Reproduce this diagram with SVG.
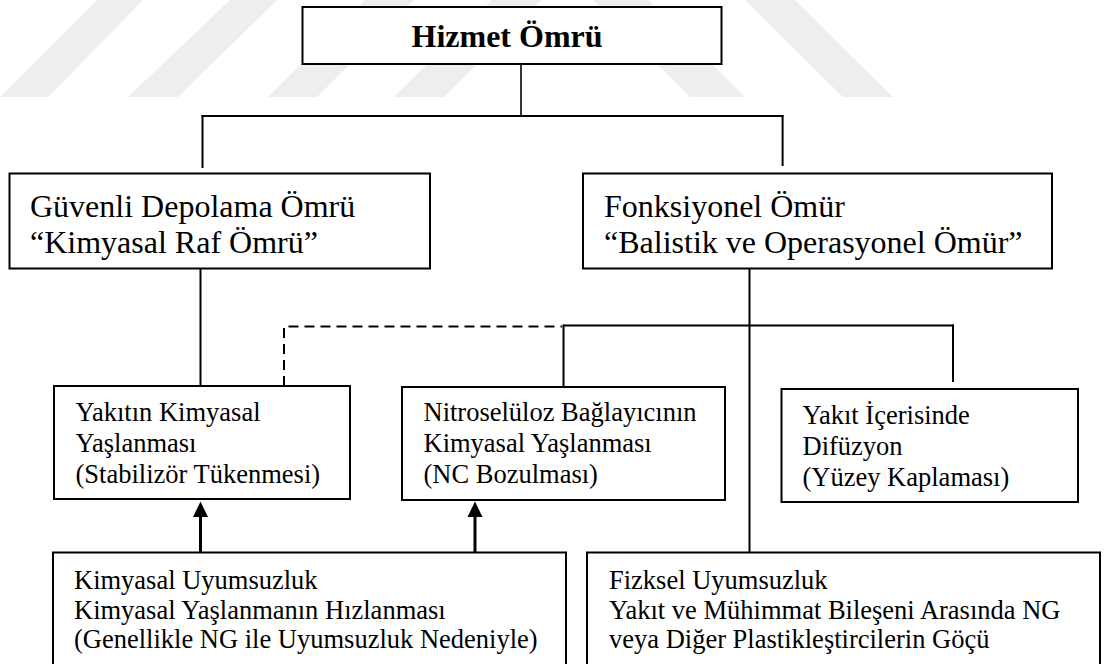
<svg xmlns="http://www.w3.org/2000/svg" width="1104" height="664" viewBox="0 0 1104 664">
<style>
.box{fill:#fff;stroke:#000;stroke-width:2}
.ln{fill:none;stroke:#000;stroke-width:2}
.dash{fill:none;stroke:#000;stroke-width:2;stroke-dasharray:10 6}
.arr{fill:none;stroke:#000;stroke-width:3}
.wm{fill:#eeeeee}
.t{font-family:"Liberation Serif","Times New Roman",serif;fill:#000}
.big{font-size:32px}
.sm{font-size:26.5px}
.bold{font-weight:bold}
</style>
<defs>
<marker id="ah" markerWidth="6" markerHeight="6" refX="5" refY="3" orient="auto" markerUnits="strokeWidth">
<path d="M0,0 L5,3 L0,6 Z" fill="#000"/>
</marker>
</defs>
<rect x="0" y="0" width="1104" height="664" fill="#fff"/>
<g id="watermark">
<polygon class="wm" points="0,97 48,97 143,0 97,0"/>
<polygon class="wm" points="128,97 178,97 277,0 230,0"/>
<polygon class="wm" points="268,97 317,97 414,0 365,0"/>
<polygon class="wm" points="394,97 444,97 541,0 492,0"/>
<polygon class="wm" points="593,0 648,0 745,97 690,97"/>
<polygon class="wm" points="745,0 795,0 893,97 843,97"/>
</g>
<g id="connectors">
<line class="ln" x1="521" y1="64" x2="521" y2="116" style="stroke-width:1.6"/>
<line class="ln" x1="201.5" y1="116" x2="783.5" y2="116"/>
<line class="ln" x1="202.5" y1="115" x2="202.5" y2="168"/>
<line class="ln" x1="782.6" y1="115" x2="782.6" y2="166"/>
<line class="ln" x1="200.5" y1="268" x2="200.5" y2="386"/>
<line class="ln" x1="749.5" y1="268" x2="749.5" y2="552"/>
<line class="ln" x1="563" y1="325.5" x2="954" y2="325.5"/>
<line class="ln" x1="563.5" y1="324.5" x2="563.5" y2="387"/>
<line class="ln" x1="953" y1="324.5" x2="953" y2="382"/>
<path class="dash" d="M284,386 V326.5 H562"/>
<line class="arr" x1="200.5" y1="552" x2="200.5" y2="515"/>
<polygon points="200.5,501.5 193,517 208,517" fill="#000"/>
<line class="arr" x1="475" y1="552" x2="475" y2="515"/>
<polygon points="475,501.5 467.5,517 482.5,517" fill="#000"/>
</g>
<g id="hizmet">
<rect class="box" x="302.5" y="7" width="419" height="57"/>
<text class="t big bold" x="411.5" y="47">Hizmet Ömrü</text>
</g>
<g id="guvenli">
<rect class="box" x="9.5" y="173.5" width="420.5" height="95"/>
<text class="t big" x="30" y="216.5">Güvenli Depolama Ömrü<tspan x="30" y="253">“Kimyasal Raf Ömrü”</tspan></text>
</g>
<g id="fonksiyonel">
<rect class="box" x="583" y="173.5" width="469" height="95"/>
<text class="t big" x="604" y="216.5">Fonksiyonel Ömür<tspan x="604" y="253">“Balistik ve Operasyonel Ömür”</tspan></text>
</g>
<g id="yakitin">
<rect class="box" x="54" y="386" width="296" height="113"/>
<text class="t sm" x="75.5" y="421">Yakıtın Kimyasal<tspan x="75.5" y="452">Yaşlanması</tspan><tspan x="75.5" y="483">(Stabilizör Tükenmesi)</tspan></text>
</g>
<g id="nitroseluloz">
<rect class="box" x="402" y="387" width="323" height="113"/>
<text class="t sm" x="423.5" y="421">Nitroselüloz Bağlayıcının<tspan x="423.5" y="452">Kimyasal Yaşlanması</tspan><tspan x="423.5" y="483">(NC Bozulması)</tspan></text>
</g>
<g id="difuzyon">
<rect class="box" x="781.5" y="389" width="296.5" height="113"/>
<text class="t sm" x="802.5" y="424">Yakıt İçerisinde<tspan x="802.5" y="455">Difüzyon</tspan><tspan x="802.5" y="486">(Yüzey Kaplaması)</tspan></text>
</g>
<g id="kimyasal-uyumsuzluk">
<rect class="box" x="53" y="552.5" width="513" height="130"/>
<text class="t sm" x="74" y="589">Kimyasal Uyumsuzluk<tspan x="74" y="618.5">Kimyasal Yaşlanmanın Hızlanması</tspan><tspan x="74" y="648">(Genellikle NG ile Uyumsuzluk Nedeniyle)</tspan></text>
</g>
<g id="fiziksel-uyumsuzluk">
<rect class="box" x="587" y="552.5" width="513" height="130"/>
<text class="t sm" x="609" y="589">Fizksel Uyumsuzluk<tspan x="609" y="618.5">Yakıt ve Mühimmat Bileşeni Arasında NG</tspan><tspan x="609" y="648">veya Diğer Plastikleştircilerin Göçü</tspan></text>
</g>
</svg>
